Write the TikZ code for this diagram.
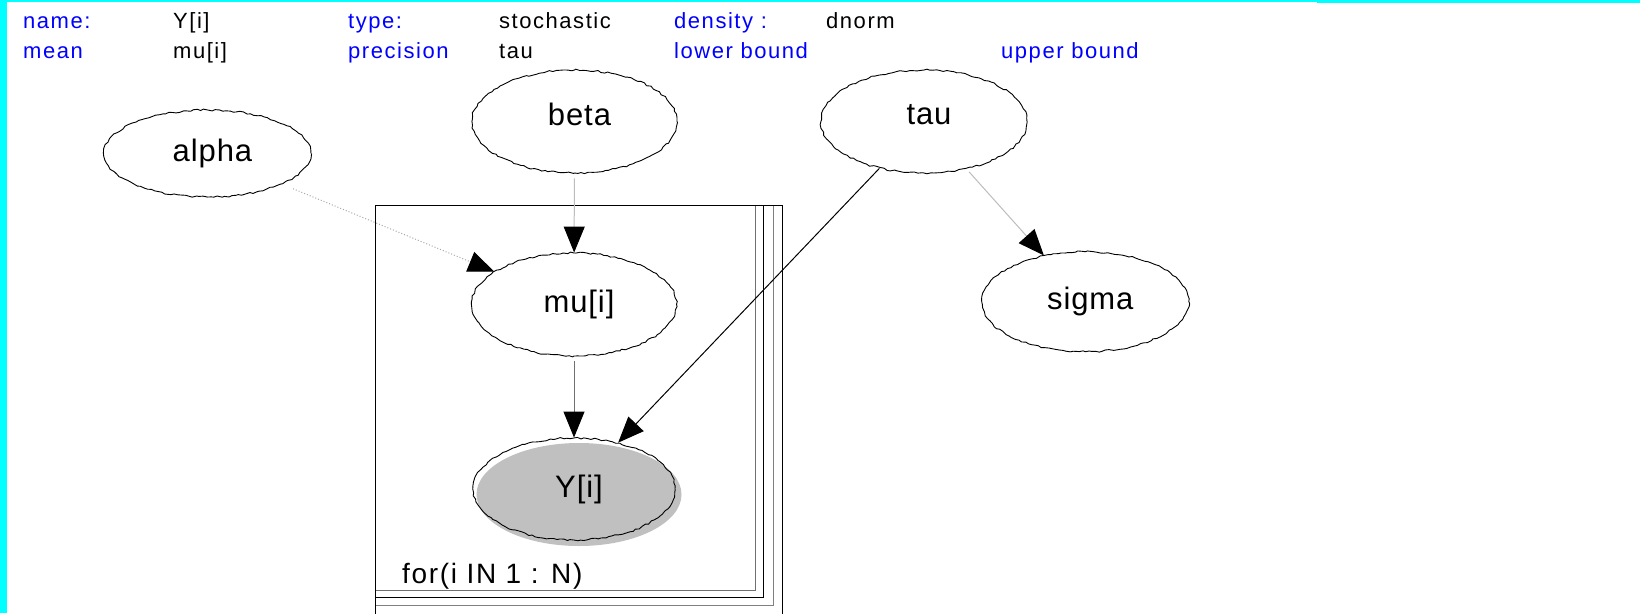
\documentclass[tikz,border=0pt]{standalone}
\usepackage{fontspec}
\setmainfont{Liberation Sans}
\newfontfamily\hdrfont[LetterSpace=7]{Liberation Sans}
\newfontfamily\varfont[LetterSpace=3]{Liberation Sans}
\newfontfamily\platefont[LetterSpace=6]{Liberation Sans}
\usetikzlibrary{shapes.geometric,arrows.meta,decorations.pathmorphing}
\definecolor{cyanbar}{HTML}{00FFFF}
\definecolor{keyblue}{HTML}{0000FF}
\definecolor{shadowgrey}{HTML}{C0C0C0}
\definecolor{lightedge}{HTML}{BDBDBD}
\definecolor{midedge}{HTML}{707070}
\definecolor{dotedge}{HTML}{A8A8A8}
\newcommand\lab[2][4pt]{\hspace*{10pt}\raisebox{#1}{#2}}
\begin{document}
\begin{tikzpicture}[x=1pt,y=-1pt,
  hdrkey/.style={anchor=base west,inner sep=0pt,text=keyblue,font=\hdrfont\fontsize{22}{26}\selectfont},
  hdrval/.style={anchor=base west,inner sep=0pt,text=black,font=\hdrfont\fontsize{22}{26}\selectfont},
  varnode/.style={ellipse,draw=black,line width=0.9pt,inner sep=0pt,
    decorate,decoration={random steps,segment length=3.5pt,amplitude=0.9pt},
    font=\varfont\fontsize{31}{36}\selectfont},
  edgetip/.style={-{Triangle[length=26pt,width=21pt,color=black]},line width=1pt},
  platetext/.style={anchor=base west,inner sep=0pt,font=\platefont\fontsize{28}{32}\selectfont}
]
\pgfmathsetseed{7}
\useasboundingbox (0,0) rectangle (1640,613);
\clip (0,0) rectangle (1640,613);
\fill[white] (0,0) rectangle (1640,613);
% cyan frame
\fill[cyanbar] (0,0) rectangle (7,613);
\fill[cyanbar] (0,0) rectangle (1317,2);
\fill[cyanbar] (1317,0) rectangle (1640,3);

% header
\node[hdrkey] (hname) at (23,28) {name:};
\node[hdrval] (vname) at (173,28) {Y[i]};
\node[hdrkey] (htype) at (348,28) {type:};
\node[hdrval] (vtype) at (499,28) {stochastic};
\node[hdrkey] (hdens) at (674,28) {density :};
\node[hdrval] (vdens) at (826,28) {dnorm};
\node[hdrkey] (hmean) at (23,58) {mean};
\node[hdrval] (vmean) at (173,58) {mu[i]};
\node[hdrkey] (hprec) at (348,58) {precision};
\node[hdrval] (vprec) at (499,58) {tau};
\node[hdrkey] (hlow) at (674,58) {lower bound};
\node[hdrkey] (hup) at (1001,58) {upper bound};

% plate
\draw[line width=1pt,color=midedge] (375,205) rectangle (755,590);
\draw[line width=1pt,color=gray] (375,205) rectangle (773,605);
\draw[line width=1pt,color=black] (375,205) rectangle (782,625);
\draw[line width=1pt,color=black] (375,205) rectangle (763,597);
\node[platetext] (plate) at (402,583) {for(i IN 1 : N)};

% shadow of observed node
\fill[shadowgrey] (579,494.5) ellipse [x radius=102.5, y radius=51.5];

% nodes
\node[varnode,minimum width=207pt,minimum height=87pt] (alpha) at (207.5,153.5) {\lab{alpha}};
\node[varnode,minimum width=205pt,minimum height=103pt] (beta) at (574.5,121.5) {\lab[14pt]{beta}};
\node[varnode,minimum width=206pt,minimum height=103pt] (tau) at (924,121.5) {\lab[14pt]{tau}};
\node[varnode,minimum width=205pt,minimum height=103pt] (mu) at (574,304.5) {\lab[6pt]{mu[i]}};
\node[varnode,minimum width=207pt,minimum height=100pt] (sigma) at (1085.3,301.7) {\lab{sigma}};
\node[varnode,minimum width=202pt,minimum height=102pt] (Y) at (574,489) {\lab{Y[i]}};

% edges
\draw[edgetip,color=dotedge,dotted,shorten <=12pt] (alpha) -- (mu);
\draw[edgetip,color=lightedge,shorten <=5pt] (beta) -- (mu);
\draw[edgetip,color=midedge,shorten <=5pt] (mu) -- (Y);
\draw[edgetip,color=black] (tau) -- (Y);
\draw[edgetip,color=lightedge,shorten <=4pt] (tau) -- (sigma);
\end{tikzpicture}
\end{document}
